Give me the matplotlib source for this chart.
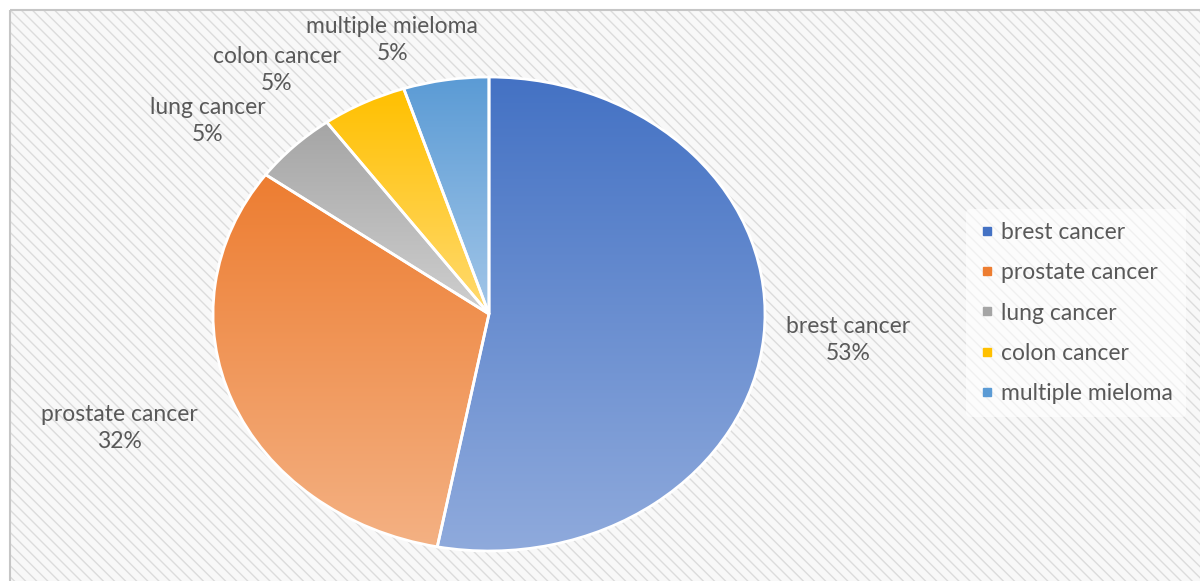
#Pie chart of cancer types, Excel-like styling
import numpy as np
import matplotlib.pyplot as plt
from matplotlib.colors import LinearSegmentedColormap
from matplotlib.lines import Line2D
from matplotlib.patches import Rectangle

#Data
cancers = ["brest cancer", "prostate cancer", "lung cancer", "colon cancer", "multiple mieloma"]
shares = [53, 32, 5, 5, 5]
top_colors = ["#4472C4", "#ED7D31", "#A5A5A5", "#FFC000", "#5B9BD5"]
bottom_colors = ["#8FAADC", "#F4B183", "#CFCFCF", "#FFDA70", "#A2C6E8"]

plt.rcParams['font.family'] = ['Lato', 'DejaVu Sans']
text_col = "#595959"
fsize = 16.5

W, H = 1200, 581
fig = plt.figure(figsize=(W / 100, H / 100), dpi=100)

#Hatched chart area background
bg = fig.add_axes([0, 0, 1, 1])
bg.set_xlim(0, W)
bg.set_ylim(H, 0)
bg.axis("off")
bg.add_patch(Rectangle((10, 10), W, H, facecolor="#f8f8f8", edgecolor="#dcdcdc",
                       hatch="\\\\\\", linewidth=0))
bg.add_patch(Rectangle((10, 10), W, H, facecolor="none", edgecolor="#c6c6c6", linewidth=1.5))

#Pie axes, stretched to an ellipse
cx, cy, rx, ry = 489, 314, 276, 237
ax = fig.add_axes([(cx - rx) / W, (H - cy - ry) / H, 2 * rx / W, 2 * ry / H])
wedges, _ = ax.pie(shares, startangle=90, counterclock=False)
ax.set_aspect("auto")
ax.axis("off")

#Gradient fill per slice (top colour -> lighter bottom)
for w, c0, c1 in zip(wedges, top_colors, bottom_colors):
    ext = w.get_path().get_extents()
    cmap = LinearSegmentedColormap.from_list("g", [c1, c0])
    grad = np.linspace(0, 1, 256).reshape(-1, 1)
    im = ax.imshow(grad, cmap=cmap, origin="lower", aspect="auto",
                   extent=(ext.x0, ext.x1, ext.y0, ext.y1), zorder=1)
    im.set_clip_path(w)
    w.set_facecolor("none")
    w.set_edgecolor("white")
    w.set_linewidth(2)
    w.set_zorder(2)
ax.set_xlim(-1, 1)
ax.set_ylim(-1, 1)

#Data labels: name above, percent below (axes data units for the centre)
label_pos = [(1.30, -0.11), (-1.34, -0.483), (-1.02, 0.815), (-0.77, 1.03), (-0.35, 1.155)]
half_gap = 9.7  # points
for name, s, p in zip(cancers, shares, label_pos):
    ax.annotate(name, p, xytext=(0, half_gap), textcoords="offset points",
                ha="center", va="center", color=text_col, fontsize=fsize,
                annotation_clip=False)
    ax.annotate(f"{s}%", p, xytext=(0, -half_gap), textcoords="offset points",
                ha="center", va="center", color=text_col, fontsize=fsize,
                annotation_clip=False)

#Legend
handles = [Line2D([], [], marker="s", linestyle="none", markersize=5.5,
                  markerfacecolor=c, markeredgecolor=c) for c in top_colors]
leg = fig.legend(handles, cancers, loc="center left",
                 bbox_to_anchor=(955 / W, 1 - 313 / H), frameon=True,
                 fontsize=fsize, labelspacing=0.83, handletextpad=0.3,
                 handlelength=0.6, borderpad=0.6)
leg.get_frame().set_facecolor("white")
leg.get_frame().set_alpha(0.6)
leg.get_frame().set_edgecolor("none")
for t in leg.get_texts():
    t.set_color(text_col)

fig.savefig("out.png", dpi=100)
